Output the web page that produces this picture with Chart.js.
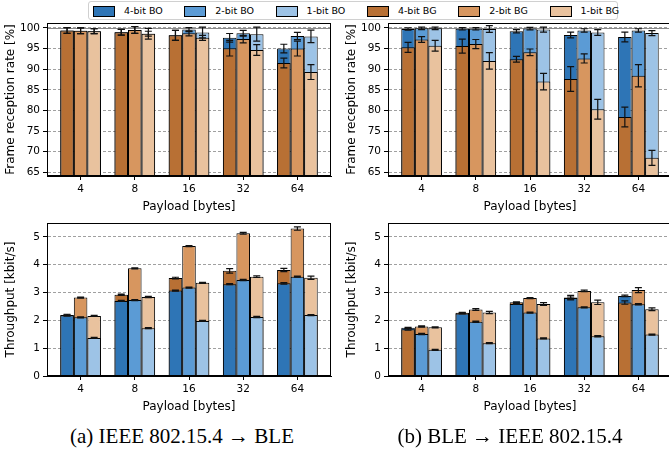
<!DOCTYPE html>
<html>
<head>
<meta charset="utf-8">
<script src="https://cdn.jsdelivr.net/npm/chart.js@4.4.0/dist/chart.umd.min.js"></script>
<style>
  body { margin: 0; width: 669px; height: 449px; overflow: hidden; background: #fff; position: relative; font-family: "DejaVu Sans", sans-serif; }
  canvas { position: absolute; }
  #legend { position: absolute; left: 88px; top: 1px; width: 530px; height: 19px; border: 1px solid #d0d0d0; border-radius: 3px; box-sizing: border-box; }
  .item { position: absolute; top: 3px; height: 12px; font-size: 9.5px; line-height: 12px; white-space: nowrap; }
  .patch { position: absolute; top: 1px; left: 0; width: 20px; height: 9px; border: 1px solid #000; }
  .item span.txt { position: absolute; left: 31px; top: 0; }
  .caption { position: absolute; top: 424px; font-family: "Liberation Serif", serif; font-size: 21px; white-space: nowrap; transform: translateX(-50%); }
</style>
</head>
<body>
<div id="legend"></div>
<canvas id="tl" width="345" height="196" style="left:0px;top:18px"></canvas>
<canvas id="tr" width="345" height="196" style="left:341px;top:18px"></canvas>
<canvas id="bl" width="345" height="196" style="left:0px;top:218px"></canvas>
<canvas id="br" width="345" height="196" style="left:341px;top:218px"></canvas>
<div class="caption" style="left:182px">(a) IEEE 802.15.4 → BLE</div>
<div class="caption" style="left:510px">(b) BLE → IEEE 802.15.4</div>
<script>
const payloads = ['4', '8', '16', '32', '64'];
const bits = ['4-bit', '2-bit', '1-bit'];
const boColors = ['#2e75b6', '#5b9bd5', '#9dc3e6'];
const bgColors = ['#b87034', '#d7965f', '#e9c29e'];

// rows: 4-bit, 2-bit, 1-bit ; columns: payloads
// (a) IEEE 802.15.4 -> BLE, frame reception rate [%]
const rateA_BO = [
  [99.4, 98.95, 98.2, 97.6, 95.0],
  [99.3, 99.5, 99.6, 98.7, 98.05],
  [99.2, 98.6, 98.9, 98.5, 97.95]
];
const rateA_BG = [
  [99.4, 98.95, 98.2, 95.1, 91.5],
  [99.3, 99.5, 98.7, 97.3, 95.0],
  [99.2, 98.6, 97.6, 94.65, 89.3]
];
const rateA_BOerr = [
  [0.7, 0.7, 1.2, 1.05, 1.05],
  [0.7, 0.8, 0.5, 0.7, 0.9],
  [0.6, 1.3, 1.3, 1.7, 1.5]
];
const rateA_BGerr = [
  [0.7, 0.7, 1.2, 1.9, 1.2],
  [0.7, 0.8, 0.6, 0.9, 1.8],
  [0.6, 0.6, 0.6, 1.3, 1.8]
];

// (b) BLE -> IEEE 802.15.4, frame reception rate [%]
const rateB_BO = [
  [99.75, 99.8, 99.2, 98.3, 97.8],
  [99.9, 99.8, 99.85, 99.4, 99.4],
  [99.9, 99.75, 99.6, 98.9, 98.75]
];
const rateB_BG = [
  [95.3, 95.6, 92.4, 87.6, 78.4],
  [97.2, 96.1, 94.1, 92.6, 88.4],
  [95.7, 92.0, 87.0, 80.3, 68.5]
];
const rateB_BOerr = [
  [0.3, 0.3, 0.4, 0.7, 1.2],
  [0.3, 0.3, 0.3, 0.4, 0.4],
  [0.3, 0.8, 0.6, 0.7, 0.6]
];
const rateB_BGerr = [
  [1.2, 1.7, 0.7, 3.0, 2.4],
  [0.7, 1.1, 0.8, 1.1, 2.7],
  [1.3, 2.0, 2.0, 2.4, 1.8]
];

// (a) throughput [kbit/s]
const thrA_BO = [
  [2.18, 2.70, 3.07, 3.30, 3.33],
  [2.11, 2.73, 3.18, 3.45, 3.57],
  [1.37, 1.72, 1.98, 2.12, 2.19]
];
const thrA_BG = [
  [2.19, 2.92, 3.52, 3.78, 3.81],
  [2.82, 3.87, 4.67, 5.13, 5.30],
  [2.16, 2.84, 3.35, 3.57, 3.53]
];
const thrA_BOerr = [
  [0.02, 0.02, 0.02, 0.02, 0.03],
  [0.02, 0.02, 0.02, 0.02, 0.02],
  [0.02, 0.02, 0.02, 0.02, 0.02]
];
const thrA_BGerr = [
  [0.03, 0.02, 0.03, 0.08, 0.06],
  [0.02, 0.02, 0.02, 0.03, 0.06],
  [0.02, 0.02, 0.02, 0.03, 0.06]
];

// (b) throughput [kbit/s]
const thrB_BO = [
  [1.73, 2.25, 2.59, 2.80, 2.88],
  [1.51, 1.95, 2.28, 2.47, 2.58],
  [0.94, 1.18, 1.35, 1.43, 1.49]
];
const thrB_BG = [
  [1.68, 2.27, 2.65, 2.82, 2.64],
  [1.78, 2.39, 2.80, 3.06, 3.09],
  [1.75, 2.28, 2.59, 2.65, 2.40]
];
const thrB_BOerr = [
  [0.02, 0.02, 0.02, 0.04, 0.03],
  [0.02, 0.02, 0.02, 0.02, 0.02],
  [0.02, 0.02, 0.02, 0.02, 0.02]
];
const thrB_BGerr = [
  [0.03, 0.02, 0.02, 0.08, 0.06],
  [0.02, 0.03, 0.02, 0.03, 0.09],
  [0.02, 0.04, 0.05, 0.08, 0.05]
];

const rateTicks = [65, 70, 75, 80, 85, 90, 95, 100];
const thrTicks = [0, 1, 2, 3, 4, 5];

// legend (html, one box over both columns)
const legendItems = bits.map((b, k) => [b + ' BO', boColors[k]]).concat(bits.map((b, k) => [b + ' BG', bgColors[k]]));
let lhtml = '';
legendItems.forEach(([name, col], i) => {
  lhtml += `<div class="item" style="left:${4 + i * 91.3}px"><span class="patch" style="background:${col}"></span><span class="txt">${name}</span></div>`;
});
document.getElementById('legend').innerHTML = lhtml;

// frame around the plot + optional solid line at 100
function framePlugin(refLine) {
  return {
    id: 'frame',
    beforeDatasetsDraw(chart) {
      if (refLine === undefined) return;
      const ctx = chart.ctx, a = chart.chartArea;
      const y = Math.round(chart.scales.y.getPixelForValue(refLine)) + 0.5;
      ctx.save();
      ctx.strokeStyle = '#8a8a8a';
      ctx.lineWidth = 1.2;
      ctx.beginPath(); ctx.moveTo(a.left, y); ctx.lineTo(a.right, y); ctx.stroke();
      ctx.restore();
    },
    afterDraw(chart) {
      const ctx = chart.ctx, a = chart.chartArea;
      ctx.save();
      ctx.strokeStyle = '#000';
      ctx.lineWidth = 1;
      ctx.strokeRect(a.left + 0.5, a.top + 0.5, a.right - a.left - 1, a.bottom - a.top - 1);
      ctx.restore();
    }
  };
}

// error bars, drawn at the x of the bars of stack k
function errorPlugin(sets) {
  return {
    id: 'errorBars',
    afterDatasetsDraw(chart) {
      const ctx = chart.ctx, ys = chart.scales.y, a = chart.chartArea;
      ctx.save();
      ctx.beginPath();
      ctx.rect(a.left, a.top, a.right - a.left, a.bottom - a.top);
      ctx.clip();
      ctx.strokeStyle = '#111';
      ctx.lineWidth = 1.2;
      sets.forEach(([vals, errs]) => {
        bits.forEach((b, k) => {
          const meta = chart.getDatasetMeta(k);
          vals[k].forEach((v, i) => {
            const x = meta.data[i].x;
            const y1 = ys.getPixelForValue(v - errs[k][i]);
            const y2 = ys.getPixelForValue(v + errs[k][i]);
            ctx.beginPath();
            ctx.moveTo(x, y1); ctx.lineTo(x, y2);
            ctx.moveTo(x - 3.5, y1); ctx.lineTo(x + 3.5, y1);
            ctx.moveTo(x - 3.5, y2); ctx.lineTo(x + 3.5, y2);
            ctx.stroke();
          });
        });
      });
      ctx.restore();
    }
  };
}

function makeChart(id, bo, bg, boErr, bgErr, yMin, yMax, yTicks, yTitle, refLine) {
  const datasets = [];
  // smaller value of the BO/BG pair is drawn in front
  ['front', 'back'].forEach(layer => {
    bits.forEach((b, k) => {
      const pts = [], cols = [];
      payloads.forEach((p, i) => {
        const boFront = bo[k][i] < bg[k][i];
        const useBo = layer === 'front' ? boFront : !boFront;
        pts.push({ x: i, y: useBo ? bo[k][i] : bg[k][i] });
        cols.push(useBo ? boColors[k] : bgColors[k]);
      });
      datasets.push({
        data: pts,
        backgroundColor: cols,
        borderColor: '#000',
        borderWidth: 1,
        stack: b,
        categoryPercentage: 0.75,
        barPercentage: 1.0
      });
    });
  });

  const tickFont = { family: 'DejaVu Sans', size: 10.5 };
  const titleFont = { family: 'DejaVu Sans', size: 12 };

  new Chart(document.getElementById(id), {
    type: 'bar',
    data: { datasets: datasets },
    options: {
      responsive: false,
      animation: false,
      layout: { padding: { top: 5, right: 14, left: 0, bottom: 0 } },
      plugins: { legend: { display: false }, tooltip: { enabled: false } },
      scales: {
        x: {
          type: 'linear',
          stacked: true,
          offset: false,
          min: -0.62,
          max: 4.62,
          afterBuildTicks: ax => { ax.ticks = payloads.map((p, i) => ({ value: i })); },
          afterFit: s => { s.height = 38; s.paddingLeft = 0; s.paddingRight = 0; },
          ticks: { callback: v => payloads[v], font: tickFont, color: '#000', padding: 3, autoSkip: false, maxRotation: 0 },
          grid: { offset: false, drawOnChartArea: false, drawTicks: true, tickLength: 4, tickColor: '#000' },
          border: { color: '#000', width: 1 },
          title: { display: true, text: 'Payload [bytes]', font: titleFont, color: '#000', padding: { top: 2, bottom: 0 } }
        },
        y: {
          stacked: false,
          min: yMin,
          max: yMax,
          afterBuildTicks: ax => { ax.ticks = yTicks.map(v => ({ value: v })); },
          afterFit: s => { s.width = 47; s.paddingTop = 0; s.paddingBottom = 0; },
          ticks: { font: tickFont, color: '#000', padding: 3 },
          grid: { color: '#a0a0a0', lineWidth: 1, tickColor: '#000', tickLength: 4, tickBorderDash: [] },
          border: { color: '#000', width: 1, dash: [3, 2] },
          title: { display: true, text: yTitle, font: titleFont, color: '#000', padding: { top: 4, bottom: 2 } }
        }
      }
    },
    plugins: [framePlugin(refLine), errorPlugin([[bo, boErr], [bg, bgErr]])]
  });
}

makeChart('tl', rateA_BO, rateA_BG, rateA_BOerr, rateA_BGerr, 64.1, 101.2, rateTicks, 'Frame reception rate [%]', 100);
makeChart('tr', rateB_BO, rateB_BG, rateB_BOerr, rateB_BGerr, 64.1, 101.2, rateTicks, 'Frame reception rate [%]', 100);
makeChart('bl', thrA_BO, thrA_BG, thrA_BOerr, thrA_BGerr, 0, 5.5, thrTicks, 'Throughput [kbit/s]');
makeChart('br', thrB_BO, thrB_BG, thrB_BOerr, thrB_BGerr, 0, 5.5, thrTicks, 'Throughput [kbit/s]');
</script>
</body>
</html>
